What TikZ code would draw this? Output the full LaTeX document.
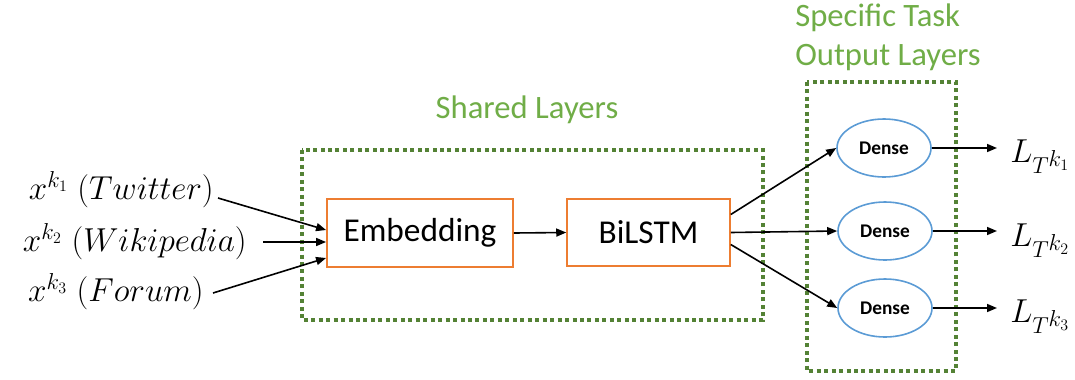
\documentclass[tikz,border=0pt]{standalone}
\usepackage{fontspec}
\setmainfont{Carlito}
\usetikzlibrary{arrows.meta,calc,shapes.geometric}
\definecolor{grpgreen}{HTML}{548235}
\definecolor{lblgreen}{HTML}{70AD47}
\definecolor{boxorange}{HTML}{ED7D31}
\definecolor{ellblue}{HTML}{5B9BD5}

\begin{document}
\begin{tikzpicture}[x=0.75pt,y=-0.75pt,
  grp/.style={draw=grpgreen, line width=3pt, dash pattern=on 3pt off 2.6pt},
  grplabel/.style={text=lblgreen, font=\fontsize{24.5}{30}\selectfont, inner sep=0pt},
  layer/.style={draw=boxorange, line width=1.4pt, fill=white, font=\fontsize{25}{30}\selectfont, inner sep=0pt},
  dense/.style={ellipse, draw=ellblue, line width=1.2pt, fill=white, minimum width=70.5pt, minimum height=43.5pt, inner sep=0pt, font=\bfseries\fontsize{14.5}{17}\selectfont},
  src/.style={font=\fontsize{24}{28}\selectfont, inner sep=0pt},
  loss/.style={font=\fontsize{24}{28}\selectfont, inner sep=0pt},
  conn/.style={line width=1.2pt, -{Triangle[length=7.5pt,width=6pt]}}
]
\useasboundingbox (0,0) rectangle (1075,379);

% group frames
\draw[grp] (302,150) rectangle (763,320);
\draw[grp] (807,82) rectangle (956,371);
\node[grplabel] (shl) at (527,110) {Shared Layers};
\node[grplabel, anchor=west, align=left] (stl) at (795,37) {Specific Task\\[-1pt]Output Layers};

% shared layers
\node[layer, minimum width=139.5pt, minimum height=51pt] (emb) at (420,233) {Embedding};
\node[layer, minimum width=122pt, minimum height=50pt] (bil) at (648.5,232.5) {BiLSTM};

% task-specific heads
\node[dense] (d1) at (884,148) {Dense};
\node[dense] (d2) at (885,231) {Dense};
\node[dense] (d3) at (885,308) {Dense};

% inputs
\node[src, anchor=east] (in1) at (214,190) {$x^{k_1}\;(Twitter)$};
\node[src, anchor=east] (in2) at (247,242) {$x^{k_2}\;(Wikipedia)$};
\node[src, anchor=east] (in3) at (204,292) {$x^{k_3}\;(Forum)$};

% losses
\node[loss, anchor=base west] (l1) at (1010,162) {$L_{T^{\scriptstyle k_1}}$};
\node[loss, anchor=base west] (l2) at (1010,246) {$L_{T^{\scriptstyle k_2}}$};
\node[loss, anchor=base west] (l3) at (1010,322) {$L_{T^{\scriptstyle k_3}}$};

% connectors
\draw[conn] ($(in1.east)+(4,8)$) -- ($(emb.west)+(0,-3)$);
\draw[conn] ($(in2.east)+(16,0)$) -- ($(emb.west)+(0,9)$);
\draw[conn] ($(in3.east)+(9,1)$) -- ($(emb.west)+(0,25)$);
\draw[conn] (emb.east) -- (bil.west);
\draw[conn] ($(bil.east)+(0,-18)$) -- (d1.west);
\draw[conn] ($(bil.east)+(0,0)$) -- (d2.west);
\draw[conn] ($(bil.east)+(0,12)$) -- (d3.west);
\coordinate (e1) at (997,148);
\coordinate (e2) at (997,231);
\coordinate (e3) at (997,308);
\draw[conn] (d1.east) -- (e1);
\draw[conn] (d2.east) -- (e2);
\draw[conn] (d3.east) -- (e3);
\end{tikzpicture}
\end{document}
